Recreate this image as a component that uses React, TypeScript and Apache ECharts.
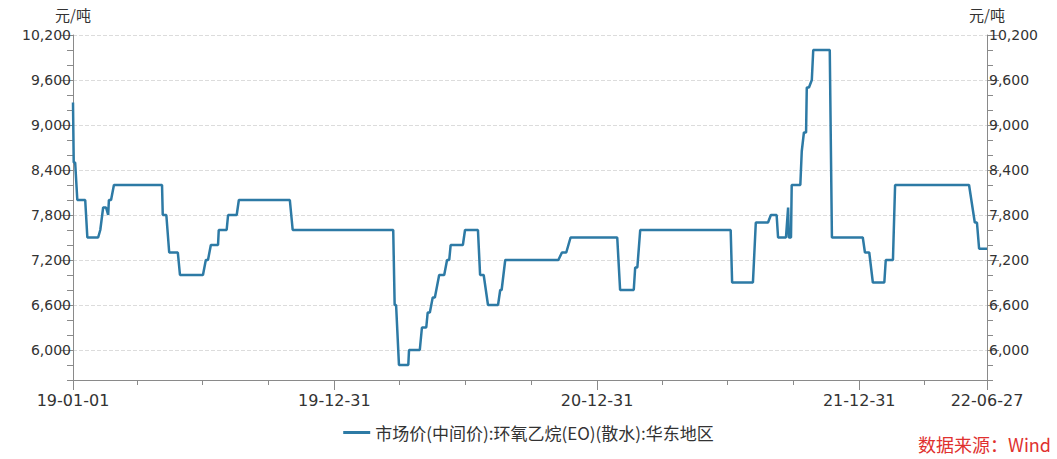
import React, { useEffect, useRef } from "react";
import * as echarts from "echarts";

// 市场价(中间价):环氧乙烷(EO)(散水):华东地区 — change points (date, 元/吨)
const dates: string[] = [
  "2019-01-01", "2019-01-02", "2019-01-04", "2019-01-07", "2019-01-18", "2019-01-21",
  "2019-02-05", "2019-02-08", "2019-02-12", "2019-02-16", "2019-02-19", "2019-02-20",
  "2019-02-23", "2019-02-27", "2019-05-05", "2019-05-06", "2019-05-11", "2019-05-15",
  "2019-05-27", "2019-05-30", "2019-07-01", "2019-07-05", "2019-07-08", "2019-07-12",
  "2019-07-22", "2019-07-23", "2019-08-03", "2019-08-05", "2019-08-17", "2019-08-20",
  "2019-10-30", "2019-11-03", "2020-03-22", "2020-03-24", "2020-03-26", "2020-03-30",
  "2020-04-12", "2020-04-13", "2020-04-28", "2020-05-01", "2020-05-07", "2020-05-09",
  "2020-05-12", "2020-05-16", "2020-05-19", "2020-05-25", "2020-06-01", "2020-06-05",
  "2020-06-08", "2020-06-10", "2020-06-27", "2020-06-30", "2020-07-18", "2020-07-21",
  "2020-07-26", "2020-08-01", "2020-08-15", "2020-08-18", "2020-08-20", "2020-08-25",
  "2020-11-07", "2020-11-12", "2020-11-18", "2020-11-24", "2021-01-28", "2021-02-01",
  "2021-02-20", "2021-02-22", "2021-02-25", "2021-03-01", "2021-07-05", "2021-07-07",
  "2021-08-05", "2021-08-09", "2021-08-26", "2021-08-30", "2021-09-07", "2021-09-09",
  "2021-09-20", "2021-09-23", "2021-09-24", "2021-09-27", "2021-09-28", "2021-10-10",
  "2021-10-12", "2021-10-15", "2021-10-18", "2021-10-19", "2021-10-22", "2021-10-26",
  "2021-10-28", "2021-11-20", "2021-11-23", "2022-01-05", "2022-01-08", "2022-01-14",
  "2022-01-19", "2022-02-04", "2022-02-06", "2022-02-16", "2022-02-19", "2022-06-02",
  "2022-06-10", "2022-06-13", "2022-06-16", "2022-06-27",
];
const prices: number[] = [
  9300, 8500, 8500, 8000, 8000, 7500,
  7500, 7600, 7900, 7900, 7800, 8000,
  8000, 8200, 8200, 7800, 7800, 7300,
  7300, 7000, 7000, 7200, 7200, 7400,
  7400, 7600, 7600, 7800, 7800, 8000,
  8000, 7600, 7600, 6600, 6600, 5800,
  5800, 6000, 6000, 6300, 6300, 6500,
  6500, 6700, 6700, 7000, 7000, 7200,
  7200, 7400, 7400, 7600, 7600, 7000,
  7000, 6600, 6600, 6800, 6800, 7200,
  7200, 7300, 7300, 7500, 7500, 6800,
  6800, 7100, 7100, 7600, 7600, 6900,
  6900, 7700, 7700, 7800, 7800, 7500,
  7500, 7900, 7500, 7500, 8200, 8200,
  8650, 8900, 8900, 9500, 9500, 9600,
  10000, 10000, 7500, 7500, 7300, 7300,
  6900, 6900, 7200, 7200, 8200, 8200,
  7700, 7700, 7350, 7350,
];

const seriesName = "市场价(中间价):环氧乙烷(EO)(散水):华东地区";
const xStart = "2019-01-01";
const xEnd = "2022-06-27";
const xLabelDates: string[] = ["2019-01-01", "2019-12-31", "2020-12-31", "2021-12-31", "2022-06-27"];
const xQuarterDates: string[] = [
  "2019-01-01", "2019-03-31", "2019-06-30", "2019-09-30", "2019-12-31",
  "2020-03-31", "2020-06-30", "2020-09-30", "2020-12-31",
  "2021-03-31", "2021-06-30", "2021-09-30", "2021-12-31",
  "2022-03-31", "2022-06-27",
];
const yMin = 5600;
const yMax = 10200;
const yLabels: number[] = [6000, 6600, 7200, 7800, 8400, 9000, 9600, 10200];
const yUnit = "元/吨";
const sourceText = "数据来源：Wind";

const ts = (s: string) => {
  const [y, m, d] = s.split("-").map(Number);
  return Date.UTC(y, m - 1, d);
};
const pad = (n: number) => (n < 10 ? "0" + n : String(n));
const fmtDate = (v: number) => {
  const d = new Date(v);
  return String(d.getUTCFullYear()).slice(2) + "-" + pad(d.getUTCMonth() + 1) + "-" + pad(d.getUTCDate());
};
const fmtNum = (v: number) => Math.round(v).toString().replace(/\B(?=(\d{3})+(?!\d))/g, ",");

const AXIS_COLOR = "#8a8a8a";
const TEXT_COLOR = "#333";
const LINE_COLOR = "#2d7aa5";
const LATIN = "DejaVu Sans, 'Noto Sans CJK SC', sans-serif";
const CJK = "'Noto Sans CJK SC', sans-serif";

export default function App() {
  const ref = useRef<HTMLDivElement>(null);
  useEffect(() => {
    if (!ref.current) return;
    document.body.style.margin = "0";
    const chart = echarts.init(ref.current, undefined, { renderer: "svg" });
    const gridBox = { left: 73, right: 70, top: 35, bottom: 79 };
    const majorY = (pos: "left" | "right") => ({
      type: "value",
      gridIndex: 0,
      position: pos,
      min: yMin,
      max: yMax,
      name: yUnit,
      nameLocation: "end",
      nameGap: 13,
      nameTextStyle: { color: TEXT_COLOR, fontSize: 15, fontFamily: CJK },
      axisLine: { show: true, lineStyle: { color: AXIS_COLOR, width: 1 } },
      axisTick: { show: true, customValues: yLabels, length: 12, lineStyle: { color: AXIS_COLOR } },
      axisLabel: {
        customValues: yLabels,
        margin: 2,
        color: TEXT_COLOR,
        fontSize: 14,
        fontFamily: LATIN,
        formatter: (v: number) => fmtNum(v),
      },
      splitLine: { show: false },
    });
    const minorY = (pos: "left" | "right", split: boolean) => ({
      type: "value",
      gridIndex: 1,
      position: pos,
      min: yMin,
      max: yMax,
      interval: 200,
      axisLine: { show: false },
      axisTick: { show: true, length: 6, lineStyle: { color: AXIS_COLOR } },
      axisLabel: { show: false },
      splitLine: {
        show: split,
        lineStyle: {
          type: "dashed",
          color: ["rgba(0,0,0,0)", "rgba(0,0,0,0)", "#dcdcdc"],
        },
      },
    });
    chart.setOption({
      animation: false,
      backgroundColor: "#fff",
      grid: [
        { ...gridBox },
        { ...gridBox },
      ],
      xAxis: [
        {
          type: "value",
          gridIndex: 0,
          min: ts(xStart),
          max: ts(xEnd),
          axisLine: { show: true, lineStyle: { color: AXIS_COLOR, width: 1 } },
          axisTick: { show: true, customValues: xLabelDates.map(ts), length: 10, lineStyle: { color: AXIS_COLOR } },
          axisLabel: {
            customValues: xLabelDates.map(ts),
            margin: 12,
            color: TEXT_COLOR,
            fontSize: 16,
            fontFamily: LATIN,
            formatter: (v: number) => fmtDate(v),
          },
          splitLine: { show: false },
        },
        {
          type: "value",
          gridIndex: 1,
          min: ts(xStart),
          max: ts(xEnd),
          axisLine: { show: false },
          axisTick: { show: true, customValues: xQuarterDates.map(ts), length: 5, lineStyle: { color: AXIS_COLOR } },
          axisLabel: { show: false },
          splitLine: { show: false },
        },
      ],
      yAxis: [majorY("left"), majorY("right"), minorY("left", true), minorY("right", false)],
      legend: {
        top: 419,
        left: "center",
        itemWidth: 27,
        itemHeight: 3,
        itemGap: 8,
        textStyle: { color: TEXT_COLOR, fontSize: 17, fontFamily: CJK },
        data: [{ name: seriesName, icon: "rect", itemStyle: { color: LINE_COLOR } }],
      },
      graphic: [
        {
          type: "text",
          right: 6,
          top: 435,
          style: { text: sourceText, fill: "#e0312f", fontSize: 18, fontFamily: CJK },
        },
      ],
      series: [
        {
          name: seriesName,
          type: "line",
          xAxisIndex: 0,
          yAxisIndex: 0,
          symbol: "none",
          showSymbol: false,
          lineStyle: { color: LINE_COLOR, width: 2.5 },
          itemStyle: { color: LINE_COLOR },
          data: dates.map((d, i) => [ts(d), prices[i]]),
        },
      ],
    });
    return () => chart.dispose();
  }, []);
  return <div ref={ref} style={{ width: 1057, height: 459 }} />;
}
